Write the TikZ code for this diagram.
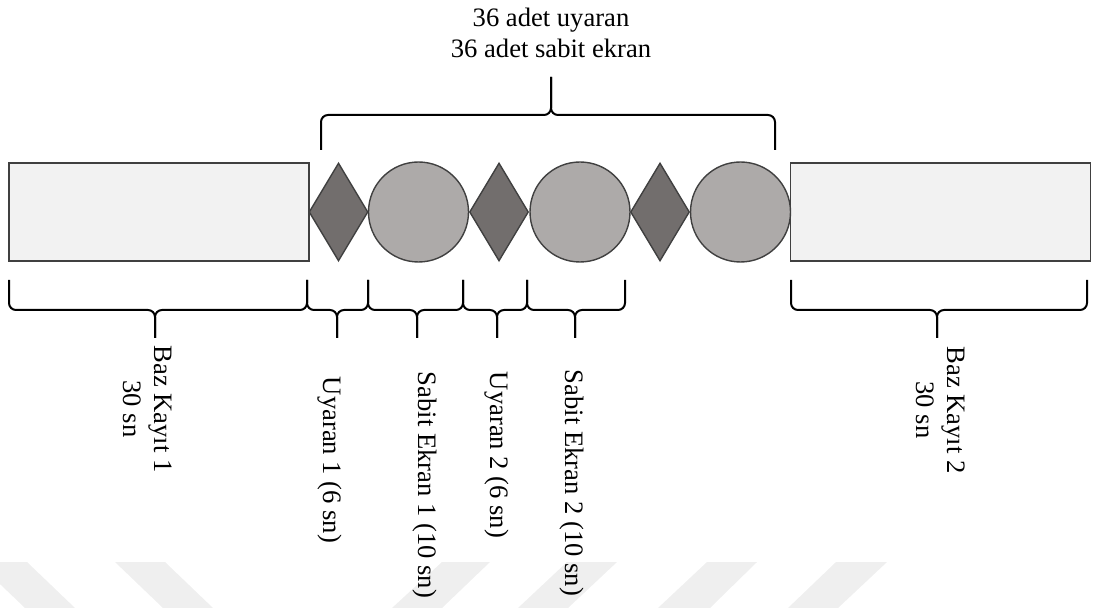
\documentclass[tikz,border=0pt]{standalone}
\usepackage{fontspec}
\setmainfont{Liberation Serif}
\usetikzlibrary{shapes.geometric}
\definecolor{boxfill}{HTML}{F2F2F2}
\definecolor{diafill}{HTML}{726E6D}
\definecolor{circfill}{HTML}{ADAAA9}
\definecolor{outline}{HTML}{404040}
\definecolor{wmark}{HTML}{EFEFEF}
\newcommand{\mybrace}[6]{%
  \draw[bracestyle] (#1,#4) |- (#3,#5) -- (#3,#6);
  \draw[bracestyle] (#2,#4) |- (#3,#5) -- (#3,#6);}
\tikzset{
  basebox/.style={draw=outline, line width=0.7pt, fill=boxfill, minimum width=150pt, minimum height=49pt, inner sep=0pt},
  stimdia/.style={diamond, draw=outline, line width=0.7pt, fill=diafill, minimum width=29.5pt, minimum height=49pt, inner sep=0pt},
  fixcirc/.style={circle, draw=outline, line width=0.7pt, fill=circfill, minimum size=50pt, inner sep=0pt},
  bracestyle/.style={line width=1pt, black, rounded corners=3.5pt},
  lbl/.style={font=\fontsize{13.3pt}{15.5pt}\selectfont, align=center, inner sep=0pt},
  vlbl/.style={lbl, rotate=-90},
}
\begin{document}
\begin{tikzpicture}[x=0.5pt, y=-0.5pt]
\useasboundingbox (0,0) rectangle (1095,608);
% watermark stripes
\fill[wmark] (-23,562) -- (27,562) -- (75,608) -- (25,608) -- cycle;
\fill[wmark] (115,562) -- (165,562) -- (213,608) -- (163,608) -- cycle;
\fill[wmark] (442,562) -- (490,562) -- (442,608) -- (392,608) -- cycle;
\fill[wmark] (567,562) -- (617,562) -- (568,608) -- (518,608) -- cycle;
\fill[wmark] (707,562) -- (757,562) -- (710,608) -- (658,608) -- cycle;
\fill[wmark] (836,562) -- (887,562) -- (838,608) -- (788,608) -- cycle;
% shapes
\node[basebox] (b1) at (159,212) {};
\node[basebox] (b2) at (940.5,212) {};
\node[stimdia] (d1) at (338.5,212) {};
\node[fixcirc] (c1) at (418.5,212) {};
\node[stimdia] (d2) at (499,212) {};
\node[fixcirc] (c2) at (580,212) {};
\node[stimdia] (d3) at (660,212) {};
\node[fixcirc] (c3) at (740.5,212) {};
% top brace and text
\mybrace{321}{775}{551}{150}{115}{77}
\node[lbl] (top) at (551,33) {36 adet uyaran\\36 adet sabit ekran};
% bottom braces
\mybrace{9}{307}{155}{280}{310}{338}
\mybrace{307}{368}{337}{280}{310}{338}
\mybrace{368}{463}{417}{280}{310}{338}
\mybrace{463}{527}{497}{280}{310}{338}
\mybrace{527}{625}{575}{280}{310}{338}
\mybrace{791}{1087}{937}{280}{310}{338}
% bottom labels
\node[vlbl] (t1) at (148,409) {Baz Kayıt 1\\30 sn};
\node[vlbl] (t2) at (330,460) {Uyaran 1 (6 sn)};
\node[vlbl] (t3) at (425,485) {Sabit Ekran 1 (10 sn)};
\node[vlbl] (t4) at (497,455) {Uyaran 2 (6 sn)};
\node[vlbl] (t5) at (571.5,483) {Sabit Ekran 2 (10 sn)};
\node[vlbl] (t6) at (941,410) {Baz Kayıt 2\\30 sn};
\end{tikzpicture}
\end{document}
